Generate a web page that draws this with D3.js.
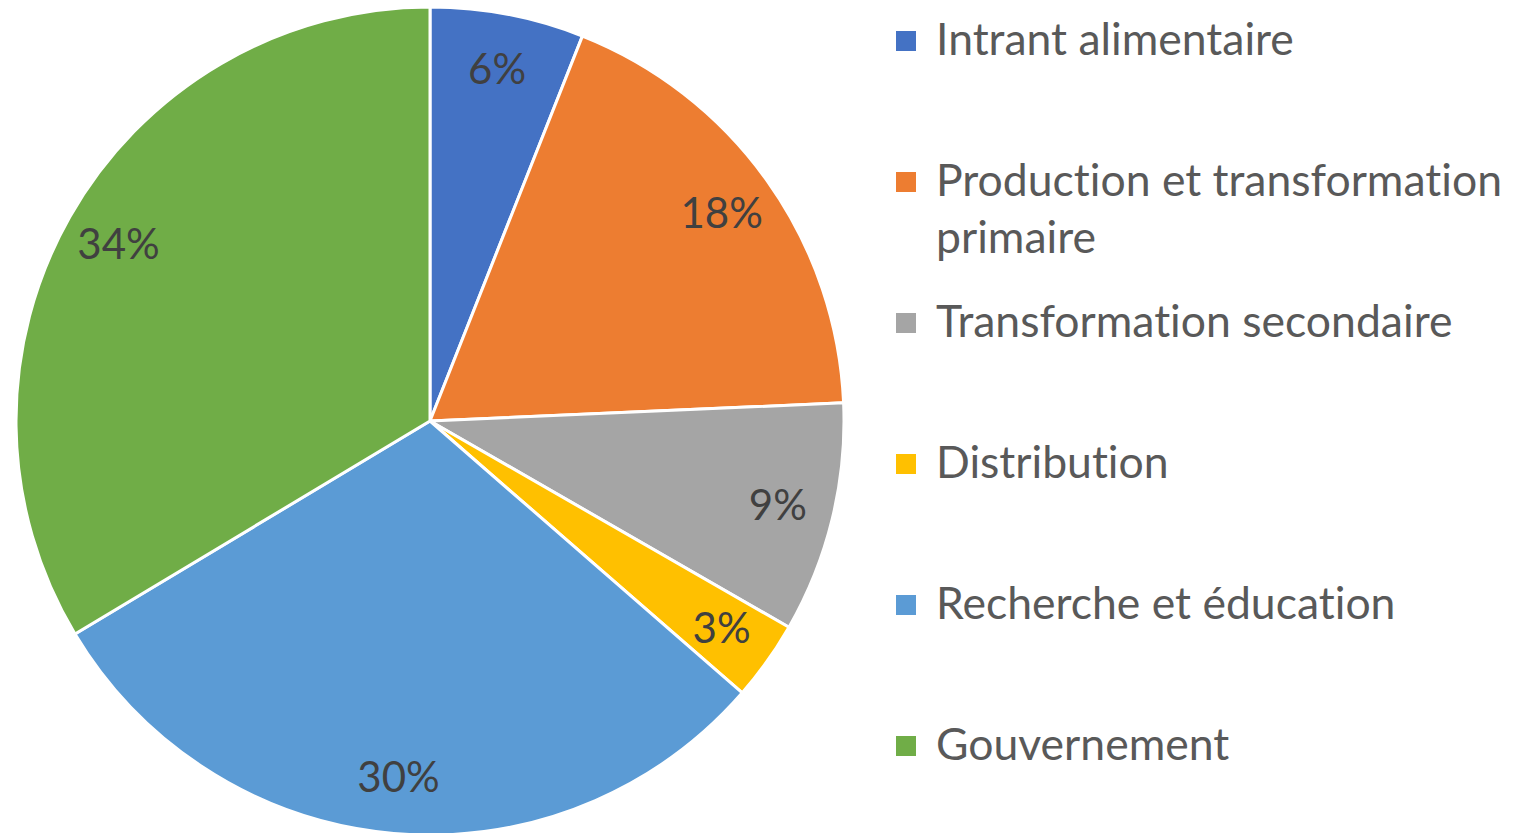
<!DOCTYPE html>
<html>
<head>
<meta charset="utf-8">
<script src="https://cdn.jsdelivr.net/npm/d3@7"></script>
<style>
  body { margin: 0; background: #fff; }
  text { font-family: Lato, "Open Sans", sans-serif; font-variant-ligatures: none; }
</style>
</head>
<body>
<script>
var width = 1537;
var height = 833;

// data
var categories = ['Intrant alimentaire', 'Production et transformation primaire', 'Transformation secondaire',
    'Distribution', 'Recherche et éducation', 'Gouvernement'];
var values = [6.0, 18.3, 9.0, 3.1, 30.0, 33.6];
var pctLabels = ['6%', '18%', '9%', '3%', '30%', '34%'];
var colors = ['#4472C4', '#ED7D31', '#A5A5A5', '#FFC000', '#5B9BD5', '#70AD47'];

// legend lines (second entry wraps)
var legendLines = [['Intrant alimentaire'], ['Production et transformation', 'primaire'],
    ['Transformation secondaire'], ['Distribution'], ['Recherche et éducation'], ['Gouvernement']];

var svg = d3.select('body')
    .append('svg')
    .attr('width', width)
    .attr('height', height);

var cx = 430, cy = 421, r = 414;

var pie = d3.pie().sort(null).value(function(d) { return d; });
var arcs = pie(values);

var arc = d3.arc().innerRadius(0).outerRadius(r);
var labelArc = d3.arc().innerRadius(358).outerRadius(358);

var g = svg.append('g').attr('transform', 'translate(' + cx + ',' + cy + ')');

g.selectAll('path')
    .data(arcs)
    .enter()
    .append('path')
    .attr('d', arc)
    .attr('fill', function(d, i) { return colors[i]; })
    .attr('stroke', '#fff')
    .attr('stroke-width', 3)
    .attr('stroke-linejoin', 'round');

g.selectAll('text.lbl')
    .data(arcs)
    .enter()
    .append('text')
    .attr('class', 'lbl')
    .attr('transform', function(d) { return 'translate(' + labelArc.centroid(d) + ')'; })
    .attr('text-anchor', 'middle')
    .attr('dy', '0.35em')
    .attr('font-size', 42)
    .attr('fill', '#404040')
    .text(function(d, i) { return pctLabels[i]; });

// legend
var legend = svg.append('g').attr('transform', 'translate(896,0)');

var items = legend.selectAll('g')
    .data(categories)
    .enter()
    .append('g')
    .attr('transform', function(d, i) { return 'translate(0,' + (41 + i * 141) + ')'; });

items.append('rect')
    .attr('x', 0)
    .attr('y', -10)
    .attr('width', 20)
    .attr('height', 20)
    .attr('fill', function(d, i) { return colors[i]; });

items.append('text')
    .attr('x', 40)
    .attr('y', 14)
    .attr('font-size', 44.5)
    .attr('fill', '#595959')
    .each(function(d, i) {
        var t = d3.select(this);
        legendLines[i].forEach(function(line, j) {
            t.append('tspan')
                .attr('x', 40)
                .attr('dy', j === 0 ? 0 : 57)
                .text(line);
        });
    });
</script>
</body>
</html>
